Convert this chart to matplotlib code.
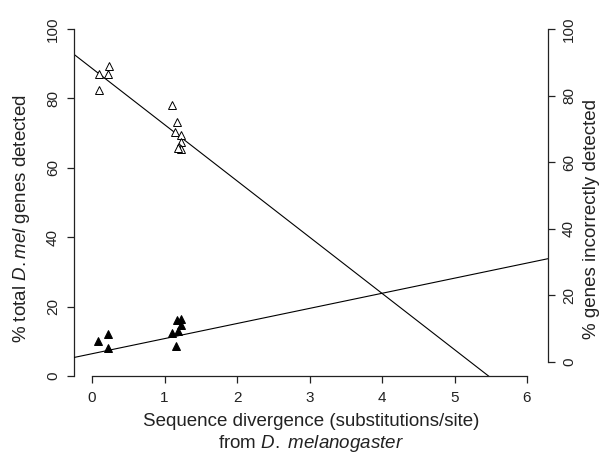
import matplotlib
matplotlib.use('Agg')
import matplotlib.pyplot as plt
import numpy as np

plt.rcParams['font.family'] = ['Liberation Sans', 'DejaVu Sans']
plt.rcParams['mathtext.fontset'] = 'custom'
plt.rcParams['mathtext.rm'] = 'Liberation Sans'
plt.rcParams['mathtext.it'] = 'Liberation Sans:italic'

# % of D.mel genes detected (open triangles, left axis)
open_x = [0.10, 0.22, 0.23, 0.10, 1.10, 1.17, 1.15, 1.23, 1.23, 1.20, 1.22, 1.19]
open_y = [86.9, 87.1, 89.3, 82.4, 78.1, 73.1, 70.3, 69.3, 67.4, 66.1, 65.3, 65.7]
# % genes incorrectly detected (filled triangles, right axis)
filled_x = [0.08, 0.22, 0.22, 1.17, 1.23, 1.23, 1.10, 1.19, 1.16]
filled_y = [6.3, 8.4, 4.2, 12.6, 13.0, 11.2, 8.8, 9.4, 4.9]
# regression lines (intercept, slope)
detected_fit = (88.6, -16.2)
incorrect_fit = (2.5, 4.54)

x_ticks = [0, 1, 2, 3, 4, 5, 6]
y_ticks = [0, 20, 40, 60, 80, 100]

W, H = 605, 457
fig = plt.figure(figsize=(W / 100, H / 100), dpi=100)
L, R, T, B = 74, 548, 16, 376
ax = fig.add_axes([L / W, 1 - B / H, (R - L) / W, (B - T) / H])
ax.set_xlim(-0.25, 6.29)
ax.set_ylim(0, 103.7)
ax2 = ax.twinx()
ax2.set_ylim(-4.2, 104)

col = '#222222'
for s in ['top', 'right']:
    ax.spines[s].set_visible(False)
for s in ['top', 'left', 'bottom']:
    ax2.spines[s].set_visible(False)
ax.spines['left'].set_bounds(0, 100)
ax.spines['bottom'].set_bounds(0, 6)
ax2.spines['right'].set_bounds(0, 100)
for a in (ax, ax2):
    for s in a.spines.values():
        s.set_color(col)
        s.set_linewidth(0.9)
    a.tick_params(direction='out', length=5, width=0.9, color=col,
                  labelcolor=col, labelsize=11)

ax.set_xticks(x_ticks)
ax.set_yticks(y_ticks)
ax2.set_yticks(y_ticks)
ax.tick_params(axis='x', pad=6)
ax.tick_params(axis='y', labelrotation=90, pad=5)
ax2.tick_params(axis='y', labelrotation=90, pad=5)
for lab in ax.get_yticklabels() + ax2.get_yticklabels():
    lab.set_verticalalignment('center')

xs = np.array(ax.get_xlim())
ax.plot(xs, detected_fit[0] + detected_fit[1] * xs, color='black', lw=0.8)
ax2.plot(xs, incorrect_fit[0] + incorrect_fit[1] * xs, color='black', lw=0.8)

ax.plot(open_x, open_y, linestyle='none', marker='^', markersize=5.5,
        markerfacecolor='white', markeredgecolor='black', markeredgewidth=0.7)
ax2.plot(filled_x, filled_y, linestyle='none', marker='^', markersize=5.5,
         markerfacecolor='black', markeredgecolor='black', markeredgewidth=0.7)

fs = 13.5
fig.text(311 / W, 1 - 421 / H, 'Sequence divergence (substitutions/site)',
         fontsize=fs, color=col, ha='center', va='center')
fig.text(311 / W, 1 - 444 / H, 'from $\\mathit{D.\\ melanogaster}$',
         fontsize=fs, color=col, ha='center', va='center')
fig.text(22 / W, 1 - 219 / H, '% total $\\mathit{D.mel}$ genes detected',
         fontsize=fs, color=col, ha='center', va='center', rotation=90)
fig.text(591 / W, 1 - 219 / H, '% genes incorrectly detected',
         fontsize=fs, color=col, ha='center', va='center', rotation=90)

fig.savefig('out.png', dpi=100)
